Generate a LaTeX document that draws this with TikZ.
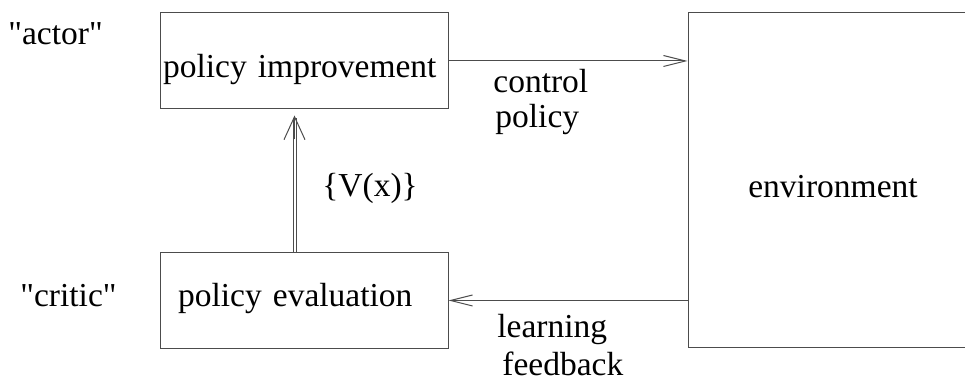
\documentclass[tikz,border=0pt]{standalone}
\usepackage{fontspec}
\setmainfont{Liberation Serif}
\usepackage{tikz}
\usetikzlibrary{arrows.meta}

\tikzset{
  box/.style={draw=black!70, line width=0.5pt, inner sep=0pt, minimum width=144pt, minimum height=48pt, text height=20pt, text depth=3pt},
  lbl/.style={anchor=base west, inner sep=0pt},
  flow/.style={draw=black!70, line width=0.5pt, -{Straight Barb[length=11pt,width=5.5pt]}}
}

\begin{document}
\begin{tikzpicture}[x=0.5pt, y=-0.5pt, every node/.style={font=\fontsize{16.75}{20}\selectfont}]
  \useasboundingbox (0,0) rectangle (965,389);
  \node[box, align=left, inner xsep=1.5pt, text width=141pt] (impr) at (304,61) {policy improvement};
  \node[box, align=left, inner xsep=9pt, text width=126pt, text height=12pt, text depth=5.5pt] (eval) at (304,300.5) {policy evaluation};
  \node[box, minimum width=145pt, minimum height=167.5pt, text height=20.5pt] (env) at (833,180.5) {environment};
  \node[lbl] (actor) at (8,45) {\textquotedbl actor\textquotedbl};
  \node[lbl] (critic) at (20,307) {\textquotedbl critic\textquotedbl};
  \draw[flow] (impr.east) -- (impr.east -| env.west);
  \node[lbl] (ctrl) at (493,93) {control};
  \node[lbl] (pol) at (495,128) {policy};
  \draw[flow] (eval.east -| env.west) -- (eval.east);
  \node[lbl] (learn) at (497,338) {learning};
  \node[lbl] (fb) at (502,376) {feedback};
  % double arrow: value estimates
  \coordinate (vtip) at ([xshift=-4.75pt, yshift=-3pt]impr.south);
  \draw[black!70, line width=0.5pt, double distance=1pt] ([xshift=-4.75pt]eval.north) -- ([yshift=-1.5pt]vtip);
  \draw[black!70, line width=0.5pt, -{Straight Barb[length=11.5pt,width=10.5pt]}] ([yshift=-12pt]vtip) -- (vtip);
  \node[lbl] (vx) at (322,197) {\{V(x)\}};
\end{tikzpicture}
\end{document}
